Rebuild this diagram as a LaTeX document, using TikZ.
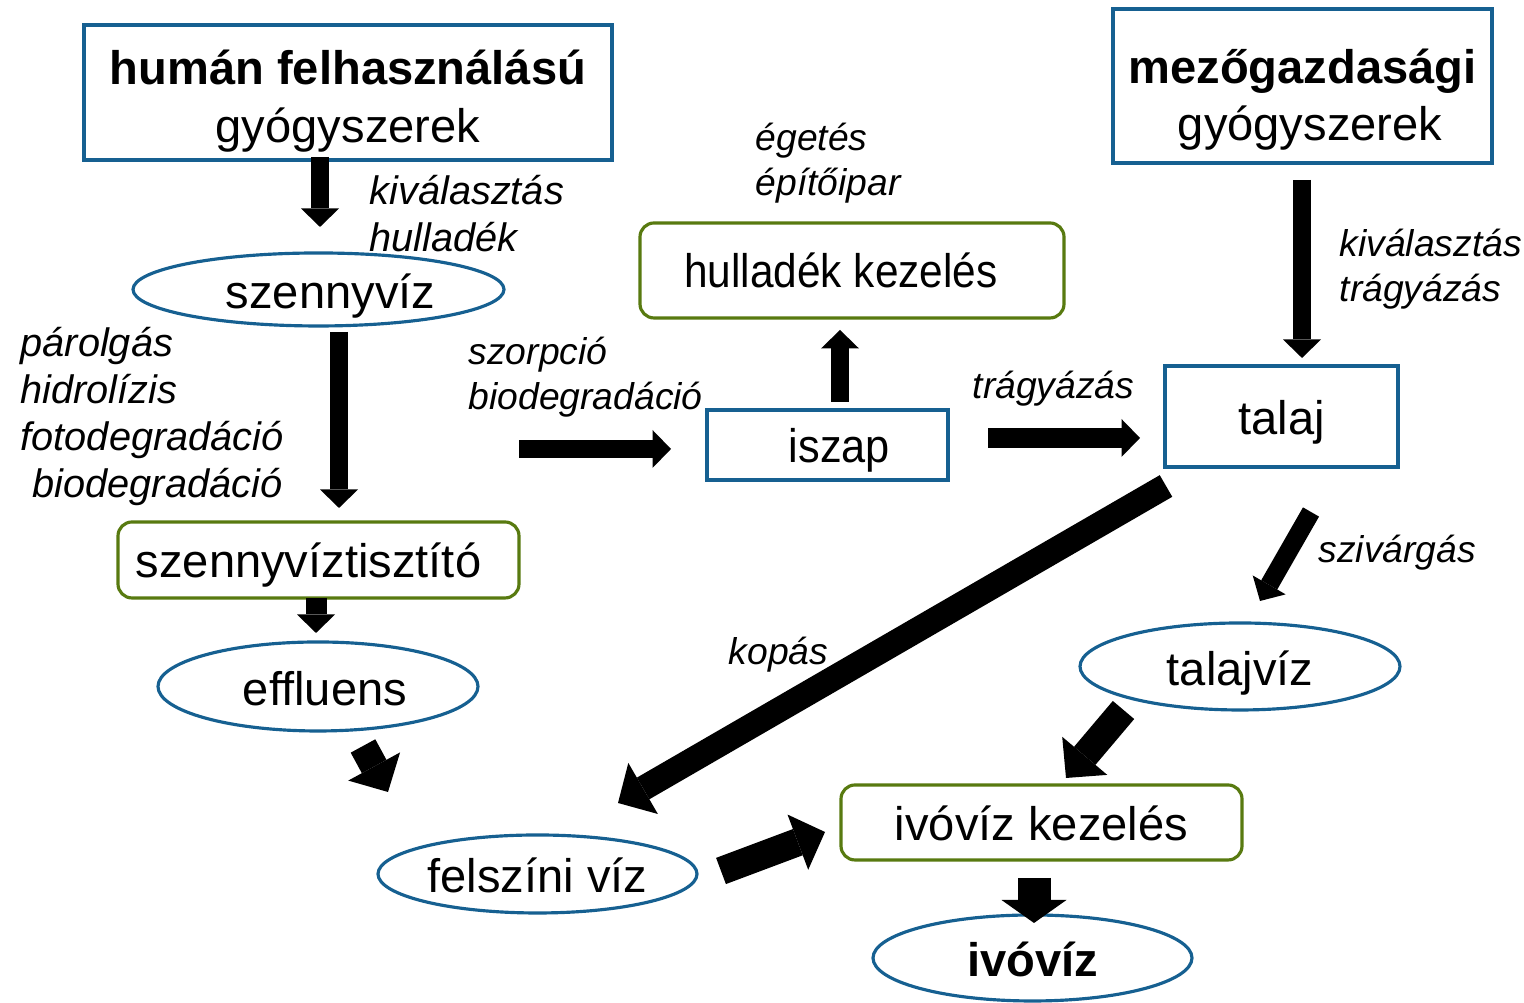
\documentclass[tikz,border=0pt]{standalone}
\usepackage{fontspec}
\setmainfont{Liberation Sans}
\usetikzlibrary{shapes.geometric,arrows.meta}
\definecolor{boxblue}{RGB}{22,96,145}
\definecolor{boxgreen}{RGB}{88,122,16}

\begin{document}
\begin{tikzpicture}[
  blbox/.style={draw=boxblue,line width=0.9pt,align=center,inner sep=0pt,font=\fontsize{13.4}{16.4}\selectfont},
  grbox/.style={draw=boxgreen,line width=0.9pt,rounded corners=0.14cm,inner sep=0pt,font=\fontsize{13.4}{16.4}\selectfont},
  blell/.style={draw=boxblue,line width=0.9pt,ellipse,inner sep=0pt,text height=0.44cm,text depth=0.06cm,font=\fontsize{13.4}{16.4}\selectfont},
  onel/.style={text height=0.42cm,text depth=0.06cm},
  lbl/.style={anchor=west,align=left,inner sep=0pt,font=\itshape\fontsize{11.3}{13.4}\selectfont},
  lbls/.style={lbl,font=\itshape\fontsize{10.6}{12.8}\selectfont},
  thinarr/.style={line width=0.185cm,-{Triangle[width=0.38cm,length=0.185cm,line width=0pt]}},
  fatarr/.style={line width=0.28cm,-{Triangle[width=0.59cm,length=0.29cm,line width=0pt]}}
]
  \useasboundingbox (0,0) rectangle (15.24,10.03);

  \node[blbox,minimum width=5.28cm,minimum height=1.35cm] (HuGy) at (3.48,9.105) {\rule{0pt}{0.52cm}\textbf{humán felhasználású}\\gyógyszerek};
  \node[blbox,minimum width=3.79cm,minimum height=1.54cm] (MeGy) at (13.025,9.17) {\rule{0pt}{0.62cm}\textbf{mezőgazdasági}\\\hspace*{0.15cm}gyógyszerek};

  \node[blell,minimum width=3.71cm,minimum height=0.73cm] (Sz) at (3.185,7.135) {\hspace*{0.24cm}szennyvíz};
  \node[grbox,onel,minimum width=4.01cm,minimum height=0.76cm] (SzTi) at (3.185,4.43) {szennyvíztisztító\hspace*{0.2cm}};
  \node[blell,minimum width=3.20cm,minimum height=0.89cm] (Ef) at (3.18,3.165) {\hspace*{0.14cm}effluens};
  \node[blell,minimum width=3.19cm,minimum height=0.78cm] (FeVi) at (5.375,1.29) {felszíni víz};

  \node[blbox,onel,minimum width=2.41cm,minimum height=0.70cm] (Is) at (8.275,5.58) {\hspace*{0.24cm}\scalebox{0.92}[1]{iszap}};
  \node[grbox,minimum width=4.24cm,minimum height=0.95cm] (HuKe) at (8.52,7.325) {\scalebox{0.9}[1]{hulladék kezelés}\hspace*{0.22cm}};
  \node[blbox,onel,minimum width=2.33cm,minimum height=1.01cm] (Ta) at (12.815,5.865) {talaj};
  \node[blell,minimum width=3.20cm,minimum height=0.87cm] (TaVi) at (12.40,3.365) {talajvíz};

  \node[grbox,onel,minimum width=4.01cm,minimum height=0.75cm] (IvKe) at (10.415,1.805) {ivóvíz kezelés};
  \node[blell,minimum width=3.19cm,minimum height=0.86cm] (Iv) at (10.325,0.45) {\textbf{ivóvíz}};

  % %labels
  \node[lbl] (KiHu) at (3.69,7.895) {kiválasztás\\hulladék};
  \node[lbls] (EgEp) at (7.55,8.395) {égetés\\építőipar};
  \node[lbl] (PaHi) at (0.20,5.865) {párolgás\\hidrolízis\\fotodegradáció\\\hspace*{0.12cm}biodegradáció};
  \node[lbls] (SzBi) at (4.68,6.255) {szorpció\\biodegradáció};
  \node[lbls] (Tr) at (9.72,6.14) {trágyázás};
  \node[lbls] (KiTr) at (13.39,7.335) {kiválasztás\\trágyázás};
  \node[lbls] (Si) at (13.18,4.50) {szivárgás};
  \node[lbls] (Ko) at (7.28,3.48) {kopás};

  % %arrows
  \coordinate (HuSzA) at (3.20,8.46); \coordinate (HuSzB) at (3.20,7.76);
  \draw[thinarr] (HuSzA) to (HuSzB);
  \coordinate (SzTiA) at (3.39,6.71); \coordinate (SzTiB) at (3.39,4.95);
  \draw[thinarr] (SzTiA) to (SzTiB);
  \coordinate (TiEfA) at (3.16,4.05); \coordinate (TiEfB) at (3.16,3.70);
  \draw[thinarr,line width=0.21cm] (TiEfA) to (TiEfB);
  \coordinate (EfFeA) at (3.63,2.57); \coordinate (EfFeB) at (3.88,2.11);
  \draw[fatarr] (EfFeA) to (EfFeB);
  \coordinate (FeIvA) at (7.21,1.32); \coordinate (FeIvB) at (8.25,1.71);
  \draw[fatarr] (FeIvA) to (FeIvB);
  \coordinate (KeIvA) at (10.34,1.25); \coordinate (KeIvB) at (10.34,0.80);
  \draw[line width=0.33cm,-{Triangle[width=0.65cm,length=0.23cm,line width=0pt]}] (KeIvA) to (KeIvB);

  \coordinate (SzIsA) at (5.19,5.54); \coordinate (SzIsB) at (6.71,5.54);
  \draw[thinarr] (SzIsA) to (SzIsB);
  \coordinate (IsHuA) at (8.40,6.01); \coordinate (IsHuB) at (8.40,6.73);
  \draw[thinarr] (IsHuA) to (IsHuB);
  \coordinate (IsTaA) at (9.88,5.65); \coordinate (IsTaB) at (11.40,5.65);
  \draw[thinarr,line width=0.2cm] (IsTaA) to (IsTaB);
  \coordinate (MeTaA) at (13.02,8.23); \coordinate (MeTaB) at (13.02,6.45);
  \draw[thinarr] (MeTaA) to (MeTaB);

  \coordinate (TaViA) at (13.11,4.91); \coordinate (TaViB) at (12.60,4.02);
  \draw[thinarr] (TaViA) to (TaViB);
  \coordinate (ViKeA) at (11.235,2.93); \coordinate (ViKeB) at (10.66,2.25);
  \draw[fatarr] (ViKeA) to (ViKeB);
  \coordinate (TaFeA) at (11.66,5.17); \coordinate (TaFeB) at (6.18,2.00);
  \draw[fatarr,line width=0.25cm] (TaFeA) to (TaFeB);

\end{tikzpicture}
\end{document}
